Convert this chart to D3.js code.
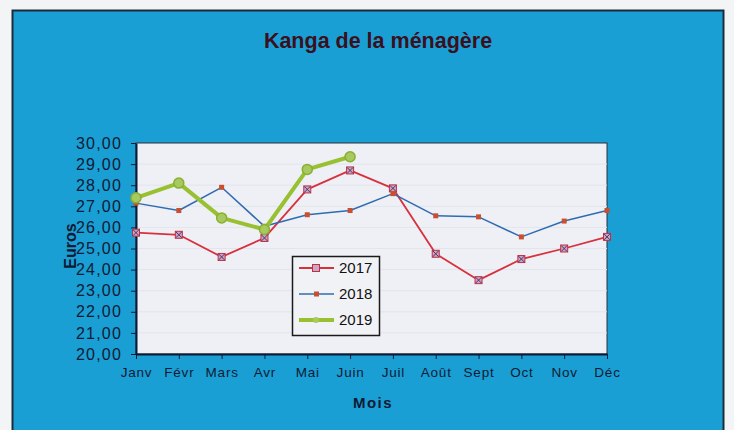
<!DOCTYPE html>
<html lang="fr">
<head>
  <meta charset="utf-8">
  <title>Kanga de la ménagère</title>
  <style>
    body { margin: 0; background: #f3f4f5; }
    svg { display: block; }
  </style>
</head>
<body>
  <script src="https://d3js.org/d3.v7.min.js" charset="utf-8"></script>
  <script>

    // valeurs
    var mois = ["Janv", "Févr", "Mars", "Avr", "Mai", "Juin", "Juil", "Août", "Sept", "Oct", "Nov", "Déc"];
    var v2017 = [25.75, 25.65, 24.6, 25.5, 27.8, 28.7, 27.85, 24.75, 23.5, 24.5, 25.0, 25.55];
    var v2018 = [27.15, 26.8, 27.9, 26.05, 26.6, 26.8, 27.6, 26.55, 26.5, 25.55, 26.3, 26.8];
    var v2019 = [27.4, 28.1, 26.45, 25.9, 28.75, 29.35];
    var yTicks = [20, 21, 22, 23, 24, 25, 26, 27, 28, 29, 30];

    var w = 734;
    var h = 430;

    var svg = d3.select("body").append("svg").attr("width", w).attr("height", h);

    // fond bleu
    svg.append("rect")
      .attr("x", 12.5).attr("y", 10.5)
      .attr("width", 711).attr("height", 430)
      .attr("fill", "#1a9fd4")
      .attr("stroke", "#1c2a3a").attr("stroke-width", 2);

    var font = "Liberation Sans, Arial, sans-serif";
    var ink = "#0e1a35";

    svg.append("text")
      .attr("x", 378).attr("y", 48)
      .attr("text-anchor", "middle")
      .attr("font-family", font)
      .attr("font-weight", "bold")
      .attr("font-size", 21.5)
      .attr("fill", "#3a1020")
      .text("Kanga de la ménagère");

    var x = d3.scalePoint().domain(mois).range([136, 607]);
    var y = d3.scaleLinear().domain([20, 30]).range([354, 143]);

    // zone du tracé
    svg.append("rect")
      .attr("x", 136).attr("y", 143)
      .attr("width", 607 - 136).attr("height", 354 - 143)
      .attr("fill", "#eef0f5")
      .attr("stroke", "#2a3040").attr("stroke-width", 1);

    svg.selectAll("line.grille")
      .data(yTicks.slice(1, -1))
      .enter()
      .append("line")
      .attr("class", "grille")
      .attr("x1", 136).attr("x2", 607)
      .attr("y1", function(d){ return y(d); })
      .attr("y2", function(d){ return y(d); })
      .attr("stroke", "#e2e5ec").attr("stroke-width", 1);

    var yAxis = svg.append("g")
      .attr("transform", "translate(136,0)")
      .call(d3.axisLeft(y).tickValues(yTicks).tickSize(5).tickSizeOuter(0)
        .tickFormat(function(d){ return d3.format(".2f")(d).replace(".", ","); }));
    yAxis.select(".domain").attr("stroke", ink).attr("stroke-width", 2);
    yAxis.selectAll(".tick line").attr("stroke", ink);
    yAxis.selectAll("text")
      .attr("x", -14)
      .attr("font-family", font).attr("font-size", 16).attr("fill", ink)
      .attr("letter-spacing", 1.2);

    var xAxis = svg.append("g")
      .attr("transform", "translate(0,354)")
      .call(d3.axisBottom(x).tickSize(5).tickSizeOuter(0));
    xAxis.select(".domain").attr("stroke", ink).attr("stroke-width", 2);
    xAxis.selectAll(".tick line").attr("stroke", ink);
    xAxis.selectAll("text")
      .attr("y", 13)
      .attr("font-family", font).attr("font-size", 13.5).attr("fill", ink)
      .attr("letter-spacing", 0.8);

    svg.append("text")
      .attr("x", 373).attr("y", 408)
      .attr("text-anchor", "middle")
      .attr("font-family", font).attr("font-weight", "bold")
      .attr("font-size", 15).attr("fill", ink)
      .attr("letter-spacing", 1.5)
      .text("Mois");

    svg.append("text")
      .attr("transform", "translate(76,246) rotate(-90)")
      .attr("text-anchor", "middle")
      .attr("font-family", font).attr("font-weight", "bold")
      .attr("font-size", 16).attr("fill", ink)
      .text("Euros");

    var line = d3.line()
      .x(function(d, i){ return x(mois[i]); })
      .y(function(d){ return y(d); });

    var series = [
      { nom: "2017", vals: v2017, color: "#d8303c", width: 1.8 },
      { nom: "2018", vals: v2018, color: "#2f6bb0", width: 1.5 },
      { nom: "2019", vals: v2019, color: "#98c030", width: 4 }
    ];

    series.forEach(function(s){
      svg.append("path")
        .datum(s.vals)
        .attr("d", line)
        .attr("fill", "none")
        .attr("stroke", s.color)
        .attr("stroke-width", s.width)
        .attr("stroke-linejoin", "round");

      var pts = svg.selectAll("g.pt" + s.nom)
        .data(s.vals)
        .enter()
        .append("g")
        .attr("transform", function(d, i){ return "translate(" + x(mois[i]) + "," + y(d) + ")"; });

      if (s.nom === "2017") {
        pts.append("rect").attr("x", -3.5).attr("y", -3.5).attr("width", 7).attr("height", 7)
          .attr("fill", "#c7a6c8").attr("stroke", "#c03040").attr("stroke-width", 1);
        pts.append("path").attr("d", "M-3,-3L3,3M-3,3L3,-3")
          .attr("stroke", "#5a3060").attr("stroke-width", 1);
      } else if (s.nom === "2018") {
        pts.append("rect").attr("x", -2.5).attr("y", -2.5).attr("width", 5).attr("height", 5)
          .attr("fill", "#c85030");
      } else {
        pts.append("circle").attr("r", 5)
          .attr("fill", "#a8c860").attr("stroke", "#88b030").attr("stroke-width", 1.5);
      }
    });

    // légende
    var leg = svg.append("g").attr("transform", "translate(292,256)");
    leg.append("rect")
      .attr("x", 0.5).attr("y", 0.5).attr("width", 87).attr("height", 79)
      .attr("fill", "#f1f2f5").attr("stroke", "#1a1a1a").attr("stroke-width", 1.5);

    var items = leg.selectAll("g.item")
      .data(series)
      .enter()
      .append("g")
      .attr("transform", function(d, i){ return "translate(0," + (12 + i * 26) + ")"; });

    items.append("line")
      .attr("x1", 7).attr("x2", 42)
      .attr("y1", 0).attr("y2", 0)
      .attr("stroke", function(d){ return d.color; })
      .attr("stroke-width", function(d){ return d.width; });

    items.each(function(d){
      var g = d3.select(this);
      if (d.nom === "2017") {
        g.append("rect").attr("x", 20.5).attr("y", -3.5).attr("width", 7).attr("height", 7)
          .attr("fill", "#c7a6c8").attr("stroke", "#c03040");
      } else if (d.nom === "2018") {
        g.append("rect").attr("x", 22).attr("y", -2.5).attr("width", 5).attr("height", 5)
          .attr("fill", "#c85030");
      } else {
        g.append("circle").attr("cx", 24).attr("r", 3).attr("fill", "#a8c860");
      }
    });

    items.append("text")
      .attr("x", 47).attr("y", 5)
      .attr("font-family", font).attr("font-size", 15).attr("fill", "#111")
      .text(function(d){ return d.nom; });

  </script>
</body>
</html>
